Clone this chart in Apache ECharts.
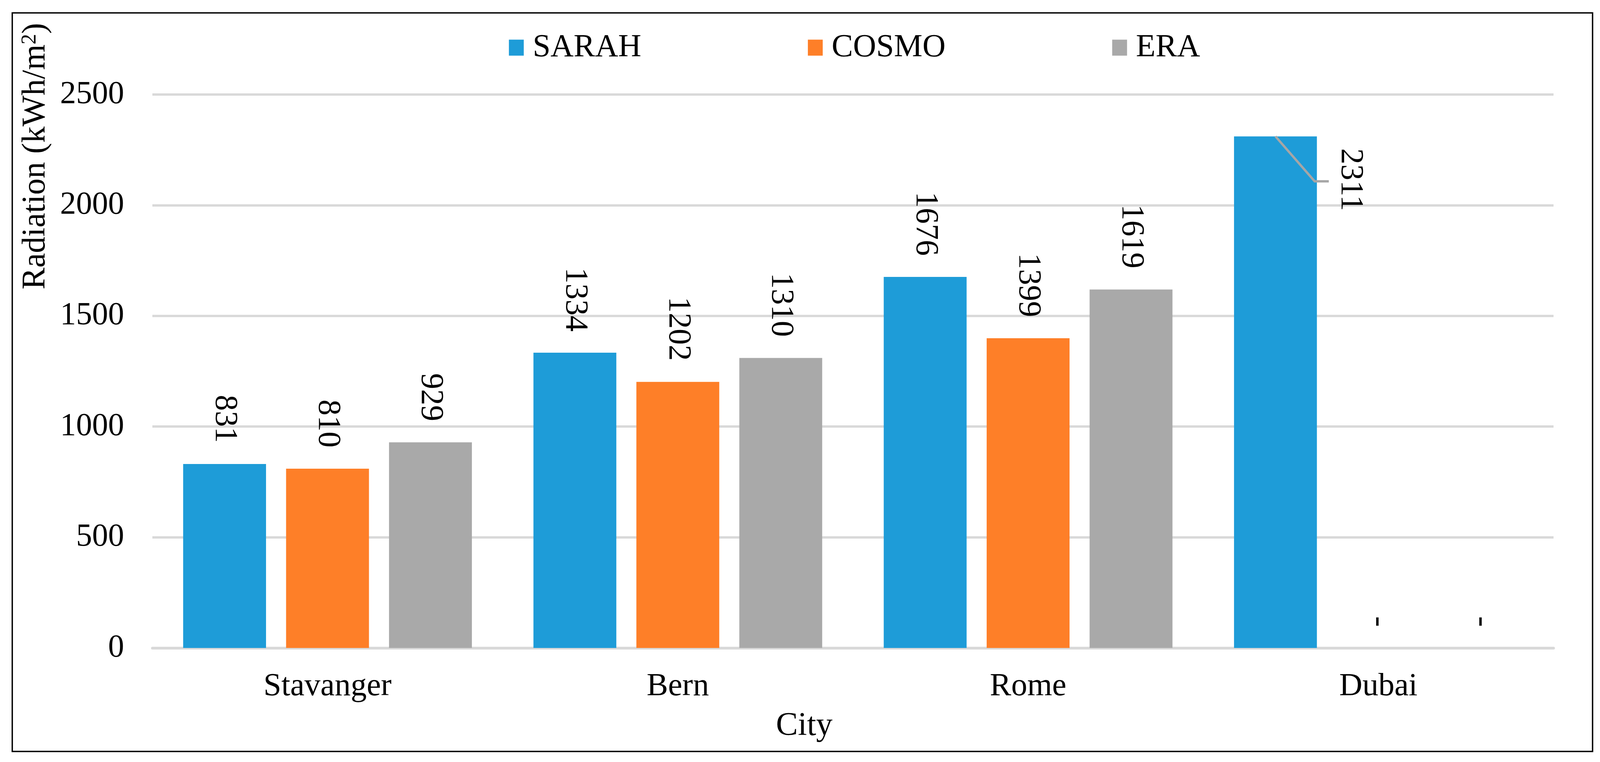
<!DOCTYPE html>
<html>
<head>
<meta charset="utf-8">
<script src="https://cdn.jsdelivr.net/npm/echarts@6/dist/echarts.min.js"></script>
<style>
html,body{margin:0;padding:0;background:#fff;overflow:hidden;}
#chart{width:100vw;height:100vh;}
</style>
</head>
<body>
<div id="chart"></div>
<script>
// ---- data ----
const categories = ['Stavanger', 'Bern', 'Rome', 'Dubai'];
const seriesNames = ['SARAH', 'COSMO', 'ERA'];
const sarah = [831, 1334, 1676, 2311];
const cosmo = [810, 1202, 1399, null];
const era = [929, 1310, 1619, null];
const yTicks = { min: 0, max: 2500, interval: 500 };
const xTitle = 'City';
const yTitle = 'Radiation (kWh/m{sup|2})';

// ---- style / layout (reference designed at 4305 px wide, scaled to the window) ----
const FONT = 'Liberation Serif';
const colors = ['#1e9cd8', '#fe7f28', '#a9a9a9'];
const BW = 0.2366;           // bar width fraction of category band
const GAP = 0.242;           // gap between bars as fraction of bar width
const W = window.innerWidth;
const sx = W / 4305;

const chart = echarts.init(document.getElementById('chart'), null, { renderer: 'canvas' });

function makeLabel() {
  return {
    show: true,
    position: 'top',
    distance: 54,
    rotate: -90,
    align: 'right',
    verticalAlign: 'middle',
    fontFamily: FONT,
    fontSize: 82,
    color: '#000'
  };
}

function toData(arr, seriesIdx) {
  return arr.map(function (v, i) {
    if (v === null) {
      return { value: 0, label: { formatter: '-' } };
    }
    if (seriesIdx === 0 && categories[i] === 'Dubai') {
      return {
        value: v,
        label: { position: ['140%', 111], align: 'center', verticalAlign: 'middle', distance: 0 }
      };
    }
    return v;
  });
}

const dubaiIdx = categories.indexOf('Dubai');

const option = {
  backgroundColor: '#fff',
  animation: false,
  textStyle: { fontFamily: FONT },
  grid: { left: 410 * sx, right: W - 4180 * sx, top: 242, bottom: 292, containLabel: false },
  legend: {
    data: seriesNames,
    left: 1364 * sx,
    top: 76,
    icon: 'rect',
    itemWidth: 40 * sx,
    itemHeight: 41,
    itemGap: 463 * sx - 14,
    textStyle: { fontFamily: FONT, fontSize: 82, lineHeight: 82, color: '#000', padding: [0, 0, 0, 24 * sx - 5] }
  },
  xAxis: {
    type: 'category',
    data: categories,
    axisLine: { show: true, lineStyle: { color: '#d9d9d9', width: 7 } },
    axisTick: { show: false },
    axisLabel: { fontFamily: FONT, fontSize: 82, color: '#000', margin: 58 },
    splitLine: { show: false }
  },
  yAxis: {
    type: 'value',
    min: yTicks.min,
    max: yTicks.max,
    interval: yTicks.interval,
    axisLine: { show: false },
    axisTick: { show: false },
    axisLabel: {
      fontFamily: FONT, fontSize: 82, color: '#000', margin: 76 * sx,
      formatter: function (v) { return String(v); }
    },
    splitLine: { show: true, lineStyle: { color: '#d9d9d9', width: 6 } }
  },
  graphic: [
    {
      type: 'rect',
      shape: { x: 33 * sx, y: 33, width: (4285 - 33) * sx, height: 1891 },
      style: { fill: 'none', stroke: '#000', lineWidth: 3.5 },
      silent: true
    },
    {
      type: 'text',
      x: 97 * sx,
      y: 400,
      rotation: Math.PI / 2,
      style: {
        text: yTitle,
        fontFamily: FONT,
        fontSize: 84,
        fill: '#000',
        align: 'center',
        verticalAlign: 'middle',
        rich: {
          sup: { fontFamily: FONT, fontSize: 54, verticalAlign: 'top', fill: '#000' }
        }
      }
    },
    {
      type: 'text',
      x: 2164 * sx,
      y: 1860,
      style: {
        text: xTitle,
        fontFamily: FONT,
        fontSize: 84,
        fill: '#000',
        align: 'center',
        verticalAlign: 'middle'
      }
    }
  ],
  series: [
    {
      name: seriesNames[0], type: 'bar', data: toData(sarah, 0),
      barWidth: (BW * 100) + '%', barGap: (GAP * 100) + '%',
      itemStyle: { color: colors[0] }, label: makeLabel()
    },
    {
      name: seriesNames[1], type: 'bar', data: toData(cosmo, 1),
      barWidth: (BW * 100) + '%', barGap: (GAP * 100) + '%',
      itemStyle: { color: colors[1] }, label: makeLabel()
    },
    {
      name: seriesNames[2], type: 'bar', data: toData(era, 2),
      barWidth: (BW * 100) + '%', barGap: (GAP * 100) + '%',
      itemStyle: { color: colors[2] }, label: makeLabel()
    },
    {
      name: 'leader',
      type: 'custom',
      z: 5,
      silent: true,
      data: [[dubaiIdx, sarah[dubaiIdx]]],
      renderItem: function (params, api) {
        const c = api.coord([api.value(0), api.value(1)]);
        const band = api.size([1, 0])[0];
        const offset = -(BW + BW * GAP) * band;   // SARAH is the first of three bars
        const x0 = c[0] + offset;
        const right = x0 + BW * band / 2;
        return {
          type: 'polyline',
          shape: { points: [[x0, c[1]], [right - 6 * sx, c[1] + 115], [right + 32 * sx, c[1] + 115]] },
          style: { stroke: '#a6a6a6', lineWidth: 6, fill: null }
        };
      }
    }
  ]
};

chart.setOption(option);
</script>
</body>
</html>
